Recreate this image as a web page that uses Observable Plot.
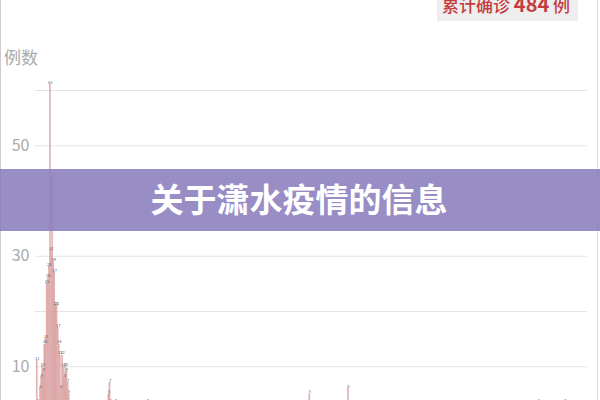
<!DOCTYPE html>
<html><head><meta charset="utf-8">
<script src="https://cdn.jsdelivr.net/npm/d3@7"></script>
<script src="https://cdn.jsdelivr.net/npm/@observablehq/plot@0.6"></script>
<style>
html,body{margin:0;padding:0;overflow:hidden;background:#fff;}
#wrap{position:relative;width:600px;height:400px;overflow:hidden;font-family:"Noto Sans CJK SC","Noto Sans",sans-serif;}
#chart{position:absolute;left:0;top:0;}
#over{position:absolute;left:0;top:0;}
</style></head><body>
<div id="wrap"><div id="chart"></div><svg id="over" width="600" height="400"></svg></div>
<script>
const days   = [0,1,2,3,4,5,6,7,8,9,10,11,12,13,14,15,16,17,18,19,20,21,22,23,24,25,26,27,28,29,30,31,64,66,67,68,69,71,73,102,248,283,456,480];
const counts = [2,11,4,3,6,8,10,9,14,15,25,26,28,61,31,44,29,27,21,21,17,14,12,6,12,10,8,10,9,7,5,3,2,5,7,4,3,2,4,4,5,6,4,4];
const yGridTicks = [10,20,30,40,50,60];
const yLabelTicks = [10,30,50];
const yAxisLabel = "例数";
const bannerTitle = "关于潇水疫情的信息";
const totalPrefix = "累计确诊";
const totalValue = 484;
const totalSuffix = "例";

const data = days.map((d,i)=>({day:d,count:counts[i]}));
const font = '"Noto Sans CJK SC","Noto Sans",sans-serif';

const plot = Plot.plot({
  width:600, height:430,
  marginTop:90, marginBottom:8.5, marginLeft:35, marginRight:13,
  style:{fontFamily:font, background:"transparent"},
  x:{domain:[0,500], axis:null},
  y:{domain:[0,60]},
  marks:[
    Plot.gridY(yGridTicks,{stroke:"#e4e4e4", strokeOpacity:1}),
    Plot.axisY(yLabelTicks,{tickSize:0, tickPadding:6, fontSize:16, fill:"#aaaaaa", label:null}),
    Plot.rectY(data,{x1:"day", x2:d=>d.day+1, y:"count", fill:"#eab5b5", stroke:"#c98e8e", strokeWidth:0.3}),
    Plot.text(data.filter(d=>d.count>=5),{x:d=>d.day+0.5, y:"count", text:"count", dy:-2.5, fontSize:4, fill:"#555"})
  ]
});
document.getElementById("chart").appendChild(plot);

const ns="http://www.w3.org/2000/svg";
const over=document.getElementById("over");
function el(tag,attrs,text){const e=document.createElementNS(ns,tag);for(const k in attrs)e.setAttribute(k,attrs[k]);if(text!=null)e.textContent=text;over.appendChild(e);return e;}
el("line",{x1:0.5,x2:0.5,y1:0,y2:400,stroke:"#cccccc"});
el("line",{x1:597.5,x2:597.5,y1:0,y2:400,stroke:"#dddddd"});
el("text",{x:4,y:64,fill:"#aaaaaa","font-size":17,"font-family":font},yAxisLabel);
el("rect",{x:0,y:169,width:600,height:62,fill:"rgba(139,125,189,0.88)"});
el("text",{x:299,y:212,fill:"#ffffff","font-size":33,"font-weight":"bold","text-anchor":"middle","font-family":font},bannerTitle);
el("rect",{x:437,y:-2,width:141,height:23,fill:"#eeeeee"});
const t=el("text",{x:442,y:12,fill:"#c43c3c","font-size":17,"font-weight":500,"font-family":font});
const s1=document.createElementNS(ns,"tspan");s1.textContent=totalPrefix+" ";t.appendChild(s1);
const s2=document.createElementNS(ns,"tspan");s2.setAttribute("font-size",20);s2.setAttribute("font-weight","bold");s2.textContent=totalValue;t.appendChild(s2);
const s3=document.createElementNS(ns,"tspan");s3.textContent=" "+totalSuffix;t.appendChild(s3);
</script>
</body></html>
